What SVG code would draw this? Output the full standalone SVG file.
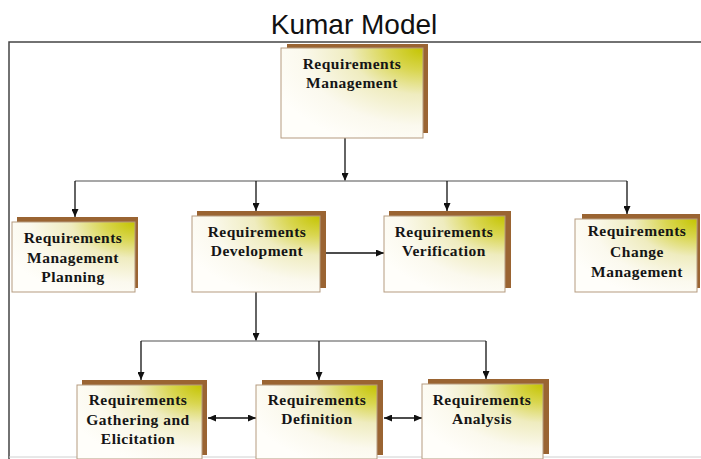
<svg xmlns="http://www.w3.org/2000/svg" width="701" height="459" viewBox="0 0 701 459">
  <defs>
    <radialGradient id="faceFill" cx="1" cy="0" r="1.15" fx="1" fy="0">
      <stop offset="0" stop-color="#c4c400"/>
      <stop offset="0.22" stop-color="#d9d650"/>
      <stop offset="0.45" stop-color="#efecbf"/>
      <stop offset="0.75" stop-color="#fbf9ee"/>
      <stop offset="1" stop-color="#fffefa"/>
    </radialGradient>
    <marker id="arrow" viewBox="0 0 8 7" markerWidth="8" markerHeight="7" refX="8" refY="3.5" orient="auto-start-reverse" markerUnits="userSpaceOnUse">
      <path d="M0,0 L8,3.5 L0,7 z" fill="#111"/>
    </marker>
  </defs>
  <style>
    .title { font-family: "Liberation Sans", Arial, sans-serif; font-size: 28px; fill: #111; }
    .shadow { fill: #9a6432; }
    .face { fill: url(#faceFill); stroke: #b59b80; stroke-width: 1; }
    .label { font-family: "Liberation Serif", "Times New Roman", serif; font-weight: bold; font-size: 15.5px; letter-spacing: 0.5px; fill: #151515; text-anchor: middle; }
    .wire { stroke: #111; stroke-width: 1.3; fill: none; }
    .bus { stroke: #8a8a8a; stroke-width: 1.3; fill: none; }
    .frame-edge { stroke: #444; stroke-width: 1.5; fill: none; }
    .frame-base { stroke: #d0d0d0; stroke-width: 1; fill: none; }
  </style>

  <rect width="701" height="459" fill="#fff"/>
  <text class="title" x="354" y="34" text-anchor="middle">Kumar Model</text>
  <!-- outer frame: dark top and left edges, faint bottom -->
  <path class="frame-edge" d="M9,459 V42 H701"/>
  <line class="frame-base" x1="9" y1="457" x2="701" y2="457"/>

  <!-- connectors -->
  <g id="connectors">
    <line class="wire" x1="345" y1="138" x2="345" y2="181" marker-end="url(#arrow)"/>
    <line class="bus" x1="75" y1="181" x2="627" y2="181"/>
    <line class="wire" x1="75" y1="181" x2="75" y2="217" marker-end="url(#arrow)"/>
    <line class="wire" x1="256" y1="181" x2="256" y2="211" marker-end="url(#arrow)"/>
    <line class="wire" x1="447" y1="181" x2="447" y2="211" marker-end="url(#arrow)"/>
    <line class="wire" x1="627" y1="181" x2="627" y2="214" marker-end="url(#arrow)"/>
    <line class="wire" x1="320" y1="253" x2="384" y2="253" marker-end="url(#arrow)"/>
    <line class="wire" x1="256" y1="292" x2="256" y2="341" marker-end="url(#arrow)"/>
    <line class="bus" x1="141" y1="341" x2="486" y2="341"/>
    <line class="wire" x1="141" y1="341" x2="141" y2="380" marker-end="url(#arrow)"/>
    <line class="wire" x1="319" y1="341" x2="319" y2="380" marker-end="url(#arrow)"/>
    <line class="wire" x1="486" y1="341" x2="486" y2="379" marker-end="url(#arrow)"/>
    <line class="wire" x1="208" y1="418" x2="256" y2="418" marker-start="url(#arrow)" marker-end="url(#arrow)"/>
    <line class="wire" x1="384" y1="418" x2="422" y2="418" marker-start="url(#arrow)" marker-end="url(#arrow)"/>
  </g>

  <g id="req-management">
    <rect class="shadow" x="287" y="44" width="141" height="89"/>
    <rect class="face" x="281" y="48" width="142" height="90"/>
    <text class="label" x="352" y="69">Requirements</text>
    <text class="label" x="352" y="88">Management</text>
  </g>

  <g id="req-mgmt-planning">
    <rect class="shadow" x="17" y="217" width="121" height="71"/>
    <rect class="face" x="12" y="222" width="123" height="70"/>
    <text class="label" x="73" y="243">Requirements</text>
    <text class="label" x="73" y="263">Management</text>
    <text class="label" x="73" y="282">Planning</text>
  </g>

  <g id="req-development">
    <rect class="shadow" x="197" y="211" width="129" height="77"/>
    <rect class="face" x="192" y="216" width="128" height="76"/>
    <text class="label" x="257" y="237">Requirements</text>
    <text class="label" x="257" y="256">Development</text>
  </g>

  <g id="req-verification">
    <rect class="shadow" x="389" y="211" width="122" height="77"/>
    <rect class="face" x="384" y="216" width="121" height="76"/>
    <text class="label" x="444" y="237">Requirements</text>
    <text class="label" x="444" y="256">Verification</text>
  </g>

  <g id="req-change-management">
    <rect class="shadow" x="582" y="214" width="118" height="74"/>
    <rect class="face" x="575" y="219" width="122" height="73"/>
    <text class="label" x="637" y="236">Requirements</text>
    <text class="label" x="637" y="257">Change</text>
    <text class="label" x="637" y="277">Management</text>
  </g>

  <g id="req-gathering">
    <rect class="shadow" x="82" y="380" width="125" height="75"/>
    <rect class="face" x="77" y="385" width="125" height="74"/>
    <text class="label" x="138" y="405">Requirements</text>
    <text class="label" x="138" y="425">Gathering and</text>
    <text class="label" x="138" y="444">Elicitation</text>
  </g>

  <g id="req-definition">
    <rect class="shadow" x="262" y="380" width="121" height="75"/>
    <rect class="face" x="256" y="385" width="121" height="74"/>
    <text class="label" x="317" y="405">Requirements</text>
    <text class="label" x="317" y="424">Definition</text>
  </g>

  <g id="req-analysis">
    <rect class="shadow" x="428" y="379" width="121" height="75"/>
    <rect class="face" x="422" y="384" width="121" height="75"/>
    <text class="label" x="482" y="405">Requirements</text>
    <text class="label" x="482" y="424">Analysis</text>
  </g>
</svg>
